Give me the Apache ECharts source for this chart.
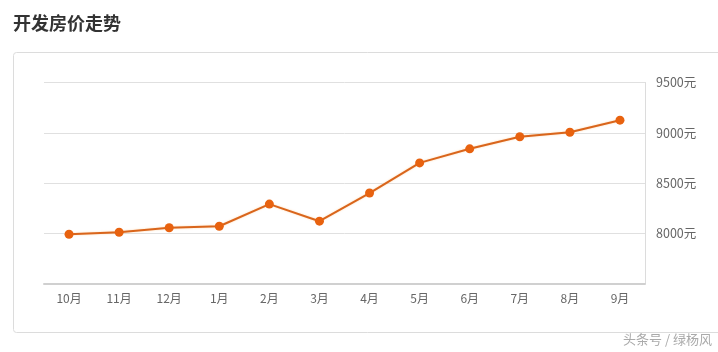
<!DOCTYPE html>
<html>
<head>
<meta charset="utf-8">
<script src="https://cdn.jsdelivr.net/npm/echarts@6/dist/echarts.min.js"></script>
<style>html,body{margin:0;padding:0;background:#fff;}#c{width:718px;height:352px;}</style>
</head>
<body>
<div id="c"></div>
<script>
const categories = ['10月','11月','12月','1月','2月','3月','4月','5月','6月','7月','8月','9月'];
const prices = [7990, 8010, 8055, 8070, 8290, 8120, 8400, 8700, 8840, 8960, 9005, 9125];
const yMin = 7500, yMax = 9500, yStep = 500;
const titleText = '开发房价走势';
const watermark = '头条号 / 绿杨风';

const chart = echarts.init(document.getElementById('c'));
chart.setOption({
  animation: false,
  backgroundColor: '#fff',
  textStyle: { fontFamily: '"Noto Sans CJK SC", "Noto Sans", sans-serif' },
  title: {
    text: titleText, left: 8, top: 9,
    textStyle: { fontSize: 18, fontWeight: 'bold', color: '#333', fontFamily: '"Noto Sans CJK SC", sans-serif' }
  },
  graphic: [
    { type: 'rect', shape: { x: 13.5, y: 52.5, width: 720, height: 280, r: 3 }, style: { fill: 'none', stroke: '#dcdcdc', lineWidth: 1 }, z: -1 },
    { type: 'text', right: 6, top: 333, style: { text: watermark, fill: '#aaa', font: '13px "Noto Sans CJK SC", sans-serif' } }
  ],
  grid: { left: 44, right: 73, top: 82.5, bottom: 68.5 },
  xAxis: {
    type: 'category', data: categories, boundaryGap: true,
    axisLine: { lineStyle: { color: '#d0d0d0', width: 2 } },
    axisTick: { alignWithLabel: true, length: 4, lineStyle: { color: '#d0d0d0' } },
    axisLabel: { color: '#666', fontSize: 12, margin: 9 }
  },
  yAxis: {
    type: 'value', position: 'right', min: yMin, max: yMax, interval: yStep,
    axisLine: { show: true, lineStyle: { color: '#dcdcdc', width: 1 } },
    axisTick: { show: false },
    axisLabel: { color: '#666', fontSize: 12.5, margin: 11, showMinLabel: false, formatter: v => v + '元' },
    splitLine: { lineStyle: { color: '#e0e0e0' } }
  },
  series: [{
    type: 'line', data: prices,
    symbol: 'circle', symbolSize: 9,
    lineStyle: { color: '#d9651c', width: 2, shadowColor: 'rgba(255,190,120,0.6)', shadowBlur: 2 },
    itemStyle: { color: '#e8620f' }
  }]
});
</script>
</body>
</html>
